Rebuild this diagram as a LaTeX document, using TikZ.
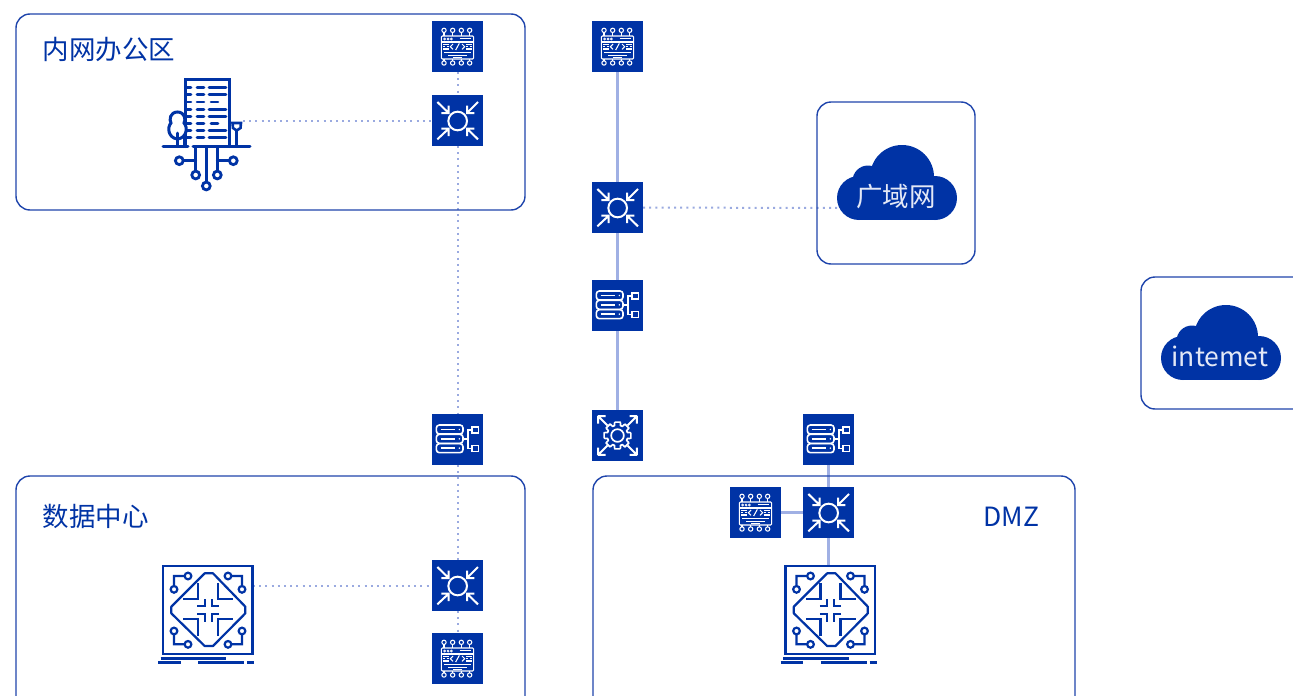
\documentclass[tikz,border=0pt]{standalone}
\usepackage{fontspec}
\setmainfont{Noto Sans CJK SC}
\definecolor{brand}{HTML}{0033A5}
\definecolor{boxline}{HTML}{1F45AC}
\definecolor{linklight}{HTML}{A0B0E4}
\definecolor{linkdot}{HTML}{9AAAE0}
\definecolor{cloudtext}{HTML}{E3E8F6}
\tikzset{
  x=1pt,y=-1pt,
  tile/.style={fill=brand,draw=none,minimum width=51pt,minimum height=51pt,inner sep=0pt,outer sep=0pt},
  zone/.style={draw=boxline,line width=1.4pt,rounded corners=14pt},
  dotlink/.style={draw=linkdot,line width=2pt,dash pattern=on 2pt off 4.2pt},
  solidlink/.style={draw=linklight,line width=2.6pt},
  label/.style={font=\fontsize{26.5}{30}\selectfont,text=brand,inner sep=0pt,anchor=west},
  cloudlabel/.style={font=\fontsize{26.5}{30}\selectfont,text=cloudtext,inner sep=0pt},
  zoomed/.style={x=.33333pt,y=-.33333pt},
  procicon/.pic={
    \begin{scope}[zoomed,shift={(-98.5,-94.5)},white,line width=1.05pt]
      \draw[rounded corners=1pt] (50,63) rectangle (147,132);
      \draw (50,81)--(147,81);
      \foreach \px in {58,84,110,135}{
        \draw (\px,46) circle (6.5);
        \draw (\px,52)--(\px,63);
        \draw (\px,144) circle (6.5);
        \draw (\px,132)--(\px,138);
      }
      \foreach \px in {60,70,80}{\draw[line width=.7pt] (\px,72) circle (3);}
      \draw (105,71)--(140,71);
      \draw (85,87)--(77,95)--(85,103);
      \draw (112,87)--(120,95)--(112,103);
      \draw (93,105)--(104,85);
      \draw (55,88)--(72,88) (55,95)--(62,95) (66,95)--(72,95) (55,102)--(72,102);
      \draw (125,88)--(142,88) (125,95)--(131,95) (135,95)--(142,95) (125,102)--(142,102);
      \draw[line width=1.6pt] (58,113)--(139,113);
      \draw (70,121)--(126,121) (85,127)--(112,127);
    \end{scope}
  },
  switchicon/.pic={
    \begin{scope}[zoomed,shift={(-98.5,-315.5)},white,line width=2pt]
      \draw (99,317) circle (28);
      \draw (38,260)--(72,293) (72,271)--(72,293)--(50,293);
      \draw (160,260)--(127,293) (127,271)--(127,293)--(149,293);
      \draw (38,372)--(72,340) (72,362)--(72,340)--(50,340);
      \draw (160,372)--(127,340) (127,362)--(127,340)--(149,340);
    \end{scope}
  },
  servericon/.pic={
    \begin{scope}[zoomed,shift={(-98.5,-91.5)},white,line width=1.6pt]
      \foreach \py in {48,76,104}{
        \draw[rounded corners=3pt] (35,\py) rectangle (115,\py+27);
        \draw (48,\py+13.5)--(90,\py+13.5);
        \fill (104,\py+13.5) circle (2.5);
      }
      \draw (115,90)--(130,90) (142,63)--(130,63)--(130,118)--(142,118);
      \draw (142,54) rectangle (161,72);
      \draw (142,109) rectangle (161,127);
    \end{scope}
  },
  gearicon/.pic={
    \begin{scope}[zoomed,white,line width=1.7pt,line join=round]
      \draw (0,0) circle (19);
      \foreach \a in {0,45,...,315}{
        \draw (\a-12:41)--(\a+12:41)--(\a+17:31)--(\a+28:31)--(\a+33:41);
      }
      \foreach \sx/\sy in {1/1,-1/1,1/-1,-1/-1}{
        \begin{scope}[xscale=\sx,yscale=\sy]
          \draw[line width=2pt] (30,30)--(58,58) (58,36)--(58,58)--(36,58);
        \end{scope}
      }
    \end{scope}
  },
  chipicon/.pic={
    \begin{scope}[zoomed,shift={(-175,-165)},brand,line width=2.2pt]
      \draw[line width=2.5pt] (40,33) rectangle (308,297);
      \draw[line join=round] (165,55)--(190,55)--(287,155)--(287,175)--(190,273)--(165,273)--(65,175)--(65,155)--cycle;
      \draw (145,85)--(145,133)--(100,133);
      \draw (205,85)--(205,133)--(250,133);
      \draw (145,243)--(145,192)--(100,192);
      \draw (205,243)--(205,192)--(250,192);
      \draw (143,153)--(165,153)--(165,131);
      \draw (207,153)--(186,153)--(186,131);
      \draw (143,178)--(165,178)--(165,202);
      \draw (207,178)--(186,178)--(186,202);
      \draw (115,63) circle (10) (73,103) circle (10) (105,63)--(73,63)--(73,93);
      \draw (235,63) circle (10) (277,103) circle (10) (245,63)--(277,63)--(277,93);
      \draw (73,228) circle (10) (115,268) circle (10) (73,238)--(73,268)--(105,268);
      \draw (277,228) circle (10) (235,268) circle (10) (277,238)--(277,268)--(245,268);
      \draw[line width=2.6pt] (33,310)--(230,310);
      \draw[line width=2.6pt] (25,322)--(93,322) (145,322)--(283,322) (292,322)--(313,322);
    \end{scope}
  },
  cloudshape/.pic={
    \fill[brand] (-38,-22) rectangle (38,22);
    \fill[brand] (5,-21) circle (32);
    \fill[brand] (-29,-17) circle (15.5);
    \fill[brand] (-38,0) circle (22);
    \fill[brand] (38,0) circle (22);
  },
}
\begin{document}
\begin{tikzpicture}
\useasboundingbox (0,0) rectangle (1293,696);
\clip (0,0) rectangle (1293,696);
\fill[white] (0,0) rectangle (1293,696);

% tiles (as named nodes, drawn now so the links can refer to them)
\node[tile] (procA) at (457.5,46.5) {};
\node[tile] (swA) at (457.5,120.5) {};
\node[tile] (srvB) at (457.5,439.5) {};
\node[tile] (swC) at (457.5,585.5) {};
\node[tile] (procC) at (457.5,658.5) {};
\node[tile] (procD) at (617.5,46.5) {};
\node[tile] (swD) at (617.5,207.5) {};
\node[tile] (srvD) at (617.5,305.5) {};
\node[tile] (gearD) at (617.5,435.5) {};
\node[tile] (srvE) at (828.5,439.5) {};
\node[tile] (swE) at (828.5,512.5) {};
\node[tile] (procE) at (755.5,512.5) {};

\coordinate (bldgPort) at (243,120.5);
\coordinate (chipPort) at (253,585.5);
\coordinate (wanPort) at (838,208);
\coordinate (chipTop) at (828.5,566);

% links
\draw[dotlink] (procA) -- (swA);
\draw[dotlink] (swA) -- (srvB);
\draw[dotlink] (srvB) -- (swC);
\draw[dotlink] (swC) -- (procC);
\draw[dotlink] (bldgPort) -- (swA);
\draw[dotlink] (chipPort) -- (swC);
\draw[dotlink] (swD) -- (wanPort);
\draw[solidlink] (procD) -- (swD);
\draw[solidlink] (swD) -- (srvD);
\draw[solidlink] (srvD) -- (gearD);
\draw[solidlink] (srvE) -- (swE);
\draw[solidlink] (procE) -- (swE);
\draw[solidlink] (swE) -- (chipTop);

% zones
\draw[zone] (16,14) rectangle (525,210);
\draw[zone] (16,476) rectangle (525,720);
\draw[zone] (593,476) rectangle (1075,720);
\draw[zone] (817,102) rectangle (975,264);
\draw[zone] (1141,277) rectangle (1320,409);

% labels
\node[label] (lblOffice) at (42.5,49) {内网办公区};
\node[label] (lblDc) at (42.5,516) {数据中心};
\node[label] (lblDmz) at (983.5,516.5) {DMZ};

% clouds
\pic at (897,198) {cloudshape};
\pic at (1221,358) {cloudshape};
\node[cloudlabel] (wan) at (896,197) {广域网};
\node[cloudlabel] (inet) at (1220,356.5) {intemet};

% tiles on top
\foreach \t in {procA,swA,srvB,swC,procC,procD,swD,srvD,gearD,srvE,swE,procE}{
  \fill[brand] (\t.north west) rectangle (\t.south east);
}
\foreach \t in {procA,procC,procD,procE}{\pic at (\t) {procicon};}
\foreach \t in {swA,swC,swD,swE}{\pic at (\t) {switchicon};}
\foreach \t in {srvB,srvD,srvE}{\pic at (\t) {servericon};}
\pic at (gearD) {gearicon};

% chips
\pic at (208,610) {chipicon};
\pic at (830.5,610) {chipicon};

% building
\begin{scope}[brand,line width=2.6pt,line cap=round]
  \draw[line width=3pt] (185,146.5)--(185,79)--(229,79)--(229,146.5);
  \draw[line width=3pt] (163,146.7)--(188,146.7) (193,146.7)--(250,146.7);
  \foreach \wy/\wa/\wb/\wc/\wd/\we/\wf in {
    87.3/187/191/197/204/209/226,
    94.7/187/191/197/204/209/226,
    102/187/191/197/204/211/218,
    109.3/187/191/197/204/209/226,
    116.7/187/191/197/204/209/226,
    123.7/187/191/197/204/211/218,
    130.7/187/191/197/204/209/226,
    137.7/187/191/197/204/209/226}{
    \draw (\wa,\wy)--(\wb,\wy) (\wc,\wy)--(\wd,\wy) (\we,\wy)--(\wf,\wy);
  }
  \draw[line width=3pt,fill=white] (177.5,112) .. controls (170,112) and (169,120) .. (171,123)
     .. controls (167,127) and (168,138) .. (177.5,139) .. controls (187,138) and (188,127) .. (184,123)
     .. controls (186,120) and (185,112) .. (177.5,112) -- cycle;
  \draw[line width=2.6pt] (177.5,133)--(177.5,146.7) (184,137)--(184,146.7);
  \draw[line width=2.6pt] (232.5,123)--(241,123)--(240.5,128)--(236.7,130.5)--(233,128)--cycle;
  \draw[line width=2.6pt] (236.7,130.5)--(236.7,146.7);
  \draw[line width=2.8pt] (195.7,147)--(195.7,171) (206.3,147)--(206.3,182) (217.3,147)--(217.3,171);
  \draw[line width=2.8pt] (183.5,160.7)--(195.7,160.7) (217.3,160.7)--(229,160.7);
  \foreach \cx/\cy in {179.3/160.7,233.3/160.7,195.7/175,217.3/175,206.3/186}{
    \draw[line width=2.8pt,fill=white] (\cx,\cy) circle (3.9);
  }
\end{scope}
\end{tikzpicture}
\end{document}
